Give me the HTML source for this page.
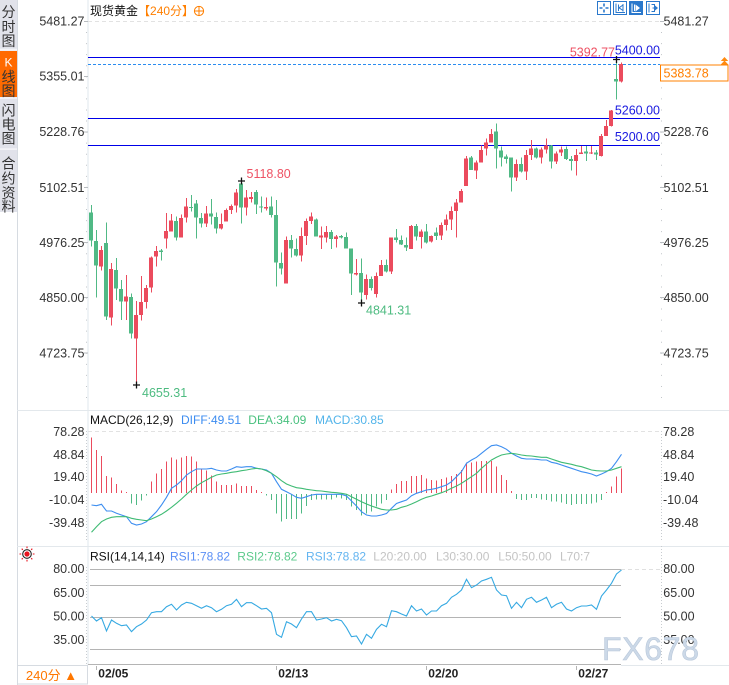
<!DOCTYPE html>
<html><head><meta charset="utf-8">
<style>
html,body{margin:0;padding:0;background:#fff;width:729px;height:685px;overflow:hidden}
svg{display:block}
text{font-family:"Liberation Sans","Noto Sans CJK SC",sans-serif}
</style></head><body>
<svg width="729" height="685" viewBox="0 0 729 685" xmlns="http://www.w3.org/2000/svg">
<rect x="0" y="0" width="729" height="685" fill="#fff"/>

<!-- sidebar -->
<rect x="0" y="0" width="17" height="212" fill="#e1e2ea"/>
<rect x="0" y="51" width="17" height="46" fill="#ff6a00"/>
<rect x="0" y="48.7" width="17" height="2" fill="#f4f4f8"/>
<rect x="0" y="97.2" width="17" height="1.6" fill="#f4f4f8"/>
<rect x="0" y="148.3" width="17" height="1.6" fill="#f4f4f8"/>
<g font-size="14" fill="#333" text-anchor="middle">
<text x="8.5" y="17">分</text><text x="8.5" y="32">时</text><text x="8.5" y="46">图</text>
<text x="8.5" y="66.5" fill="#fff" font-family="Liberation Serif,serif" font-size="12">K</text><text x="8.5" y="82">线</text><text x="8.5" y="96">图</text>
<text x="8.5" y="115.5">闪</text><text x="8.5" y="129.5">电</text><text x="8.5" y="143.5">图</text>
<text x="8.5" y="168.5">合</text><text x="8.5" y="183.5">约</text><text x="8.5" y="198">资</text><text x="8.5" y="211.5">料</text>
</g>
<line x1="17.5" y1="0" x2="17.5" y2="685" stroke="#d6dbe1"/>
<line x1="88" y1="0" x2="88" y2="665" stroke="#dfe7ed"/>

<!-- panel separators -->
<line x1="17" y1="410.5" x2="729" y2="410.5" stroke="#e3e8ec"/>
<line x1="17" y1="546.5" x2="729" y2="546.5" stroke="#e3e8ec"/>

<!-- title -->
<text x="90" y="14.8" font-size="12" fill="#111">现货黄金<tspan fill="#ff7f00">【240分】</tspan></text>
<circle cx="199" cy="11" r="4.6" fill="none" stroke="#ff7f00" stroke-width="1"/>
<path d="M194.4 11H203.6M199 6.4V15.6" stroke="#ff7f00" stroke-width="1"/>

<!-- top icons -->
<g stroke="#2a78cc" fill="none">
<rect x="597.5" y="1.5" width="13" height="13" fill="#fff"/>
<path d="M604 3.5V6.5M604 9.5V12.5M599.5 8H602.5M605.5 8H608.5" stroke-width="1.6"/>
<rect x="613.5" y="1.5" width="13" height="13" fill="#fff"/>
<path d="M616 3.5V12.5H625M618.5 4.5V11M619 7.8L623 5M619 7.8L623 10.5M623 4V11.5"/>
<rect x="629.5" y="1.5" width="13" height="13" fill="#2a78cc"/>
<path d="M632 3.5V12.5H641M634.5 4.5V11" stroke="#fff"/>
<path d="M635.5 4.5L640 8L635.5 11.5Z" fill="#fff" stroke="none"/>
<rect x="646.5" y="1.5" width="13" height="13" fill="#fff"/>
<path d="M649 3.5V12.5M651.5 4.5H654.5V11.5H651.5M652.5 8H657"/>
<path d="M655 5.5L658 8L655 10.5Z" fill="#2a78cc" stroke="none"/>
</g>

<!-- main chart grid/axes -->
<line x1="88" y1="21.5" x2="660" y2="21.5" stroke="#e2e2e2" stroke-dasharray="4,3"/>
<line x1="86.5" y1="21" x2="86.5" y2="405" stroke="#c2c6ca" stroke-dasharray="1,10.06"/>
<line x1="661.5" y1="21" x2="661.5" y2="405" stroke="#c2c6ca" stroke-dasharray="1,10.06"/>
<g stroke="#b8bcc0">
<path d="M84 21.5H88M84 76.5H88M84 132H88M84 187.5H88M84 242.5H88M84 297.5H88M84 353H88"/>
<path d="M660 21.5H664M660 76.5H664M660 132H664M660 187.5H664M660 242.5H664M660 297.5H664M660 353H664"/>
</g>
<g font-size="12.5" fill="#333">
<g text-anchor="end">
<text x="84.5" y="25.5">5481.27</text><text x="84.5" y="80.5">5355.01</text><text x="84.5" y="136">5228.76</text><text x="84.5" y="191.8">5102.51</text><text x="84.5" y="247">4976.25</text><text x="84.5" y="302">4850.00</text><text x="84.5" y="357.5">4723.75</text>
</g>
<text x="663.5" y="25.5">5481.27</text><text x="663.5" y="80.5">5355.01</text><text x="663.5" y="136">5228.76</text><text x="663.5" y="191.8">5102.51</text><text x="663.5" y="247">4976.25</text><text x="663.5" y="302">4850.00</text><text x="663.5" y="357.5">4723.75</text>
</g>

<!-- price lines -->
<g stroke="#0000e8" stroke-width="1" shape-rendering="crispEdges">
<line x1="88" y1="57.5" x2="660" y2="57.5"/>
<line x1="88" y1="118.5" x2="660" y2="118.5"/>
<line x1="88" y1="145.5" x2="660" y2="145.5"/>
</g>
<line x1="88" y1="64.5" x2="660" y2="64.5" stroke="#2a8cf0" stroke-dasharray="3,2" shape-rendering="crispEdges"/>
<g font-size="12.5" fill="#1a1ae0" text-anchor="end">
<text x="660" y="54.5">5400.00</text>
<text x="660" y="114.5">5260.00</text>
<text x="660" y="141">5200.00</text>
</g>
<text x="615" y="56.5" font-size="12.5" fill="#ee5264" text-anchor="end">5392.77</text>
<rect x="660.5" y="65" width="67.5" height="16" fill="#fff" stroke="#ff8000"/>
<text x="663.5" y="77.3" font-size="12.5" fill="#ff7f00">5383.78</text>
<path d="M720.8 61L724.5 57L728.2 61Z M720.8 64.5L724.5 60.5L728.2 64.5Z" fill="#ff8a10"/>

<!-- candles -->
<g shape-rendering="crispEdges">
<path stroke="#eb4b5d" stroke-width="1" fill="none" d="M101.5 246V270.7M111.5 263V325.7M126.5 275V320M136.5 301V386M141.5 276V320.7M146.5 285V308.7M151.5 256.7V292.7M156.5 246V266.7M166.5 213V248.7M171.5 214V231.7M181.5 214.7V237.7M186.5 198V222.7M206.5 206V227M221.5 213.7V229.3M226.5 208.3V221.7M231.5 204.3V214M236.5 189V212.7M246.5 190V215.7M251.5 192V202.7M266.5 197.7V210.7M286.5 236.7V283.7M301.5 227.7V261.7M306.5 218.3V245M311.5 212.7V224M321.5 226.7V249M326.5 226V242.3M336.5 235V247.3M356.5 259V275.7M366.5 274.3V299.3M376.5 272.3V297.3M381.5 260V276M391.5 237.7V274M411.5 225V249M421.5 229.3V248.3M431.5 235.7V242.7M441.5 222.3V240M446.5 214.3V230.7M451.5 206.7V230M456.5 199V237.7M461.5 189V202.7M466.5 156V186M476.5 160.7V179M481.5 145.7V162.7M486.5 138.3V155.7M491.5 129V142.3M516.5 159.3V181M526.5 150V180M531.5 140V160M541.5 147.3V163.3M546.5 138.3V153.3M556.5 151.7V164M561.5 146.7V156M576.5 149V175.7M581.5 146V154M591.5 146V154M601.5 134V156.7M606.5 120V136M611.5 110V126.7M621.5 62.7V82.7"/>
<path stroke="#eb4b5d" stroke-width="4" fill="none" d="M101 250V266.7M111 269V317.7M126 296.7V301.7M136 315V338.7M141 302V315M146 288V302M151 257.3V287.7M156 251V256.7M166 231V238.7M171 220.7V231.7M181 218V237.7M186 206.7V217.7M206 213.7V223.7M221 224V228.7M226 210V221.7M231 206V210M236 192.7V205.7M246 197.7V207.7M251 197V199M266 207V208.3M286 240V283.7M301 236V255.7M306 221V236M311 216.7V221M321 235.7V237.3M326 232V237.3M336 236.7V239M356 273V274.3M366 279V295M376 276V294M381 265V276M391 237.7V271.7M411 226V249M421 231.7V237M431 236V241.7M441 225V235.7M446 219.3V225M451 211V219.3M456 202.7V211M461 191V202.7M466 158.3V186M476 162.7V170.7M481 150V162.7M486 142.3V148.7M491 134V142.3M516 164V177.7M526 155V171.7M531 148.3V155M541 149.3V157.3M546 145.7V149.3M556 153.3V161.7M561 149.3V152.7M576 155V161M581 152.7V154M591 152.3V153.5M601 136V156M606 126V136M611 110.7V126M621 64V81.7"/>
<path stroke="#50b985" stroke-width="1" fill="none" d="M91.5 205V246.7M96.5 230V297.7M106.5 222.7V320M116.5 258V300M121.5 280V320M131.5 293.3V338.7M161.5 249V260.7M176.5 216.7V240.7M191.5 195V211.7M196.5 200V238.7M201.5 213V227.7M211.5 199V224.3M216.5 212.3V233.7M241.5 180.7V223.3M256.5 190V214M261.5 196.7V212.3M271.5 196.7V217.7M276.5 200V286.7M281.5 252.3V274.3M291.5 235V257.7M296.5 238.3V256.7M316.5 218.3V236.7M331.5 230V249M341.5 235V238.3M346.5 232.7V248.7M351.5 248.7V295M361.5 258.3V303.3M371.5 276.7V290.7M386.5 259.3V272.7M396.5 229V242.7M401.5 235.7V245M406.5 237.7V251M416.5 224V240.7M426.5 224V243.3M436.5 227.7V240M471.5 156V170M496.5 123.3V168.3M501.5 146.7V166.7M506.5 154.3V163.3M511.5 157.3V191.7M521.5 157.3V172.7M536.5 147.3V158.3M551.5 145V168.3M566.5 146.7V160M571.5 156V170.7M586.5 146V161M596.5 150V160M616.5 59.3V99.3"/>
<path stroke="#50b985" stroke-width="4" fill="none" d="M91 212.7V240.7M96 241V265.7M106 243V316.7M116 270V288.7M121 289V301.7M131 297V333.7M161 250.7V252M176 221V237.7M191 207V208M196 203.7V217.7M201 218V223.7M211 213.7V216.7M216 217V228.7M241 183.3V207.7M256 192V204.7M261 206.3V207.7M271 206.7V215M276 215V262.7M281 263V268.7M291 240V248.7M296 249V255.7M316 219.3V236.7M331 232V239M341 236V237.7M346 237V248.7M351 248.7V273.7M361 273V292.7M371 279V288M386 265V271.7M396 237.7V240M401 240V244.3M406 245V247.7M416 226V236.7M426 231.7V242.3M436 232.7V236M471 157.7V170M496 131.5V148.5M501 150.7V157.7M506 156.7V159M511 157.3V177.7M521 164V171.7M536 148.3V157.3M551 145.7V161.7M566 149V159M571 159V161M586 151.7V153.3M596 152.7V154.3M616 79V81.5"/>
</g>

<!-- high/low markers -->
<g stroke="#111" stroke-width="1.3">
<path d="M238 181H245M241.5 177.5V184.5"/>
<path d="M133 385H140M136.5 381.5V388.5"/>
<path d="M358 303H365M361.5 299.5V306.5"/>
<path d="M613 59.5H620M616.5 56V63"/>
</g>
<text x="246.5" y="177.8" font-size="12.5" fill="#ee5264">5118.80</text>
<text x="142" y="397" font-size="12.5" fill="#4dbb80">4655.31</text>
<text x="366" y="314.5" font-size="12.5" fill="#4dbb80">4841.31</text>

<!-- MACD panel -->
<text x="90" y="423.8" font-size="12" fill="#111">MACD(26,12,9)</text>
<text x="181" y="423.8" font-size="12" fill="#3c8cf0">DIFF:49.51</text>
<text x="248.3" y="423.8" font-size="12" fill="#48c07e">DEA:34.09</text>
<text x="315" y="423.8" font-size="12" fill="#52b4ea">MACD:30.85</text>
<line x1="88" y1="431.5" x2="660" y2="431.5" stroke="#e2e2e2" stroke-dasharray="4,3"/>
<line x1="86.5" y1="431" x2="86.5" y2="540" stroke="#c8ccd0" stroke-dasharray="1,2"/>
<line x1="661.5" y1="431" x2="661.5" y2="540" stroke="#c8ccd0" stroke-dasharray="1,2"/>
<g font-size="12.5" fill="#333">
<g text-anchor="end">
<text x="84.5" y="436.2">78.28</text><text x="84.5" y="458.8">48.84</text><text x="84.5" y="481.2">19.40</text><text x="84.5" y="503.8">-10.04</text><text x="84.5" y="527.2">-39.48</text>
</g>
<text x="663" y="436.2">78.28</text><text x="663" y="458.8">48.84</text><text x="663" y="481.2">19.40</text><text x="663" y="503.8">-10.04</text><text x="663" y="527.2">-39.48</text>
</g>
<g shape-rendering="crispEdges">
<path stroke="#eb4b5d" stroke-width="1" fill="none" d="M91.5 437.7V493M96.5 450V493M101.5 456V493M106.5 476V493M111.5 477.7V493M116.5 484V493M121.5 490.7V493M126.5 492V493M151.5 481.7V493M156.5 473.3V493M161.5 469V493M166.5 461.7V493M171.5 457.3V493M176.5 459.3V493M181.5 457.7V493M186.5 456V493M191.5 456.7V493M196.5 461.7V493M201.5 468.3V493M206.5 470.7V493M211.5 475.7V493M216.5 481.7V493M221.5 485V493M226.5 485V493M231.5 485V493M236.5 483.3V493M241.5 486V493M246.5 486V493M251.5 486V493M256.5 490V493M261.5 492V493M391.5 489.3V493M396.5 484V493M401.5 481V493M406.5 481V493M411.5 476V493M416.5 476V493M421.5 475V493M426.5 478.3V493M431.5 480V493M436.5 480.7V493M441.5 479V493M446.5 477.7V493M451.5 476V493M456.5 474V493M461.5 470V493M466.5 462.7V493M471.5 462.7V493M476.5 461.7V493M481.5 461V493M486.5 461V493M491.5 461V493M496.5 466.7V493M501.5 475V493M506.5 480V493M511.5 491V493M606.5 492V493M611.5 486.7V493M616.5 476.7V493M621.5 468.3V493"/>
<path stroke="#50b985" stroke-width="1" fill="none" d="M131.5 494V503.3M136.5 494V505M141.5 494V500.7M146.5 494V495.5M266.5 494V495.5M271.5 494V500M276.5 494V513.3M281.5 494V521.7M286.5 494V519M291.5 494V519M296.5 494V519M301.5 494V513.3M306.5 494V506M311.5 494V500M316.5 494V499.3M321.5 494V499.3M326.5 494V499.3M331.5 494V499.3M336.5 494V497.7M341.5 494V498.3M346.5 494V500M351.5 494V506.7M356.5 494V510M361.5 494V515.7M366.5 494V513.3M371.5 494V511.7M376.5 494V506.7M381.5 494V503.3M386.5 494V500M516.5 494V499M521.5 494V500M526.5 494V500M531.5 494V498M536.5 494V498M541.5 494V499.3M546.5 494V500M551.5 494V501.7M556.5 494V501.7M561.5 494V502.7M566.5 494V504M571.5 494V505M576.5 494V504M581.5 494V504M586.5 494V504M591.5 494V503.3M596.5 494V502.7M601.5 494V500"/>
</g>
<polyline fill="none" stroke="#3d8ef0" stroke-width="1.1" points="91.5,505 96.5,505.7 101.5,504.3 106.5,511 111.5,511 116.5,513.3 121.5,515 126.5,516.7 131.5,523.3 136.5,525 141.5,524 146.5,521.7 151.5,516.7 156.5,511.7 161.5,505 166.5,497.3 171.5,488.3 176.5,485 181.5,480.7 186.5,475 191.5,471.7 196.5,469 201.5,469 206.5,469 211.5,468.3 216.5,470 221.5,471 226.5,471 231.5,469 236.5,466.7 241.5,467.3 246.5,466.7 251.5,466.7 256.5,468.3 261.5,469 266.5,470 271.5,473.3 276.5,481.7 281.5,489.3 286.5,491.7 291.5,494.3 296.5,497.3 301.5,498.3 306.5,496.7 311.5,495 316.5,494.3 321.5,494.3 326.5,494.3 331.5,494.3 336.5,494.3 341.5,494.3 346.5,496 351.5,501 356.5,506 361.5,511.7 366.5,515 371.5,516 376.5,516 381.5,515 386.5,513.5 391.5,508.3 396.5,503.5 401.5,501.7 406.5,500 411.5,495.7 416.5,493.3 421.5,491.7 426.5,490 431.5,489.3 436.5,488.3 441.5,486.7 446.5,485 451.5,481.7 456.5,476.7 461.5,471.7 466.5,463.3 471.5,460 476.5,457.3 481.5,453.3 486.5,449.3 491.5,445.7 496.5,445 501.5,446.7 506.5,449.3 511.5,453.3 516.5,456 521.5,458.3 526.5,459 531.5,459 536.5,459.3 541.5,460 546.5,460 551.5,462.3 556.5,463.3 561.5,465 566.5,466.7 571.5,468.3 576.5,470 581.5,471.7 586.5,472.7 591.5,474 596.5,476 601.5,474 606.5,471.7 611.5,468.3 616.5,461.7 621.5,454.3"/>
<polyline fill="none" stroke="#3fbb74" stroke-width="1.1" points="91.5,532.3 96.5,526.7 101.5,521.7 106.5,519 111.5,517.3 116.5,516.7 121.5,516.7 126.5,516.7 131.5,518.3 136.5,519.3 141.5,520 146.5,520.7 151.5,519 156.5,516.7 161.5,514.3 166.5,511 171.5,507.3 176.5,503.3 181.5,499 186.5,494.3 191.5,490 196.5,486 201.5,482.7 206.5,480 211.5,477.3 216.5,475 221.5,474 226.5,473.3 231.5,472.3 236.5,471.7 241.5,470.7 246.5,470 251.5,469 256.5,468.3 261.5,469 266.5,470.7 271.5,473.3 276.5,476.7 281.5,480.7 286.5,484 291.5,486 296.5,487.7 301.5,488.3 306.5,489.3 311.5,490 316.5,490.7 321.5,491 326.5,491.7 331.5,492.3 336.5,492.7 341.5,493.3 346.5,494.3 351.5,496.7 356.5,499.3 361.5,501.7 366.5,504 371.5,506 376.5,507.7 381.5,509.3 386.5,510 391.5,510 396.5,509.3 401.5,507.3 406.5,506 411.5,504 416.5,501.7 421.5,499.3 426.5,497.3 431.5,496 436.5,494.3 441.5,492.7 446.5,490.7 451.5,488.3 456.5,486 461.5,483.3 466.5,480 471.5,476.7 476.5,473.3 481.5,468.3 486.5,464 491.5,460 496.5,457.3 501.5,455 506.5,454 511.5,453.3 516.5,454 521.5,455 526.5,455.7 531.5,456 536.5,456.7 541.5,457.3 546.5,457.3 551.5,459 556.5,460.7 561.5,462.3 566.5,463.3 571.5,464.3 576.5,465.7 581.5,466.7 586.5,468.3 591.5,470 596.5,470.7 601.5,471 606.5,471 611.5,470 616.5,468.3 621.5,466.7"/>

<!-- RSI panel -->
<g transform="translate(27,554)">
<circle r="2.6" fill="#e8141e"/>
<circle r="4.3" fill="none" stroke="#222" stroke-width="1.1"/>
<path d="M0 -7.5V-5.8M0 5.8V7.5M-7.5 0H-5.8M5.8 0H7.5M-5.3 -5.3L-4.2 -4.2M4.2 4.2L5.3 5.3M-5.3 5.3L-4.2 4.2M4.2 -4.2L5.3 -5.3" stroke="#e8141e" stroke-width="1.1"/>
</g>
<text x="90" y="560.3" font-size="12" fill="#111">RSI(14,14,14)</text>
<text x="170" y="560.3" font-size="12" fill="#5b8ff5">RSI1:78.82</text>
<text x="237.3" y="560.3" font-size="12" fill="#5dca8c">RSI2:78.82</text>
<text x="306" y="560.3" font-size="12" fill="#64b5f0">RSI3:78.82</text>
<text x="373.3" y="560.3" font-size="12" fill="#c4c4c4">L20:20.00</text>
<text x="436" y="560.3" font-size="12" fill="#c4c4c4">L30:30.00</text>
<text x="498.3" y="560.3" font-size="12" fill="#c4c4c4">L50:50.00</text>
<text x="560" y="560.3" font-size="12" fill="#c4c4c4">L70:7</text>
<line x1="86.5" y1="567" x2="86.5" y2="664" stroke="#c8ccd0" stroke-dasharray="1,2"/>
<line x1="661.5" y1="546" x2="661.5" y2="664" stroke="#c8ccd0" stroke-dasharray="1,2"/>
<line x1="621" y1="569.5" x2="660" y2="569.5" stroke="#e0e0e0" stroke-dasharray="4,3"/>
<g stroke="#b4b4b4" stroke-width="1" shape-rendering="crispEdges">
<line x1="90" y1="569.5" x2="621" y2="569.5"/>
<line x1="90" y1="585.5" x2="621" y2="585.5"/>
<line x1="90" y1="617.5" x2="621" y2="617.5"/>
<line x1="90" y1="649.5" x2="621" y2="649.5"/>
<line x1="88" y1="664.5" x2="621" y2="664.5"/>
</g>
<line x1="621" y1="665.5" x2="729" y2="665.5" stroke="#e3e8ec"/>
<g font-size="12.5" fill="#333">
<g text-anchor="end">
<text x="84.5" y="572.8">80.00</text><text x="84.5" y="596.8">65.00</text><text x="84.5" y="620.5">50.00</text><text x="84.5" y="643.8">35.00</text>
</g>
<text x="663.3" y="572.8">80.00</text><text x="663.3" y="596.8">65.00</text><text x="663.3" y="620.5">50.00</text><text x="663.3" y="643.8">35.00</text>
</g>
<polyline fill="none" stroke="#36a9e2" stroke-width="1.1" points="91.5,616 96.5,621 101.5,617.7 106.5,631 111.5,620 116.5,623.3 121.5,625.7 126.5,625 131.5,631.7 136.5,626.7 141.5,624 146.5,620 151.5,612.7 156.5,611.7 161.5,611.7 166.5,606.7 171.5,604.3 176.5,610 181.5,605 186.5,602.3 191.5,603.3 196.5,605.7 201.5,608.3 206.5,605.7 211.5,607.7 216.5,611.7 221.5,609.3 226.5,605.7 231.5,604.3 236.5,599.3 241.5,606.7 246.5,602.7 251.5,602.7 256.5,605.7 261.5,609 266.5,608.3 271.5,612.7 276.5,634.3 281.5,637.3 286.5,621.7 291.5,624 296.5,627.7 301.5,619 306.5,611.7 311.5,611.7 316.5,620 321.5,619 326.5,617.7 331.5,621 336.5,619.3 341.5,620.7 346.5,627.7 351.5,636.7 356.5,636 361.5,644 366.5,634.3 371.5,638.3 376.5,629.3 381.5,624.3 386.5,626.7 391.5,610.7 396.5,611.7 401.5,614 406.5,616 411.5,605.7 416.5,611 421.5,609 426.5,615 431.5,611 436.5,611 441.5,605.7 446.5,603.3 451.5,597.3 456.5,594.3 461.5,590 466.5,579.3 471.5,587.7 476.5,585 481.5,581 486.5,579.3 491.5,577.3 496.5,590 501.5,595 506.5,595.7 511.5,608.3 516.5,602.3 521.5,607.7 526.5,599.3 531.5,597.3 536.5,602.3 541.5,600 546.5,597.3 551.5,607.7 556.5,604.3 561.5,602.3 566.5,609 571.5,611 576.5,607.7 581.5,606 586.5,606 591.5,605 596.5,609.3 601.5,596 606.5,590 611.5,583.3 616.5,574 621.5,570"/>

<!-- watermark -->
<text x="602" y="660" font-size="32" fill="#ccd9e8" stroke="#b9c8da" stroke-width="0.6" letter-spacing="0.7">FX678</text>

<!-- bottom axis -->
<g stroke="#b4b4b4">
<path d="M96.5 666V670M276.5 666V670M426.5 666V670M576.5 666V670"/>
</g>
<g font-size="12" font-weight="bold" fill="#222">
<text x="98.3" y="677.5">02/05</text>
<text x="278.3" y="677.5">02/13</text>
<text x="428.3" y="677.5">02/20</text>
<text x="578.3" y="677.5">02/27</text>
</g>
<rect x="17.5" y="665.5" width="70" height="18.5" fill="#fff" stroke="#d6dbe1"/>
<text x="51.5" y="680" font-size="13" fill="#ff7700" text-anchor="middle">240分 ▲</text>
</svg>
</body></html>
